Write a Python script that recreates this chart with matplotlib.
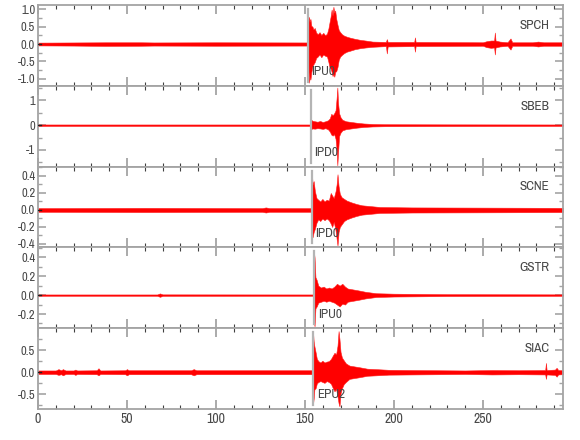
import numpy as np
import matplotlib
matplotlib.use("Agg")
import matplotlib.pyplot as plt
from matplotlib.ticker import MultipleLocator, FormatStrFormatter

plt.rcParams['font.family'] = ['Archivo Narrow', 'DejaVu Sans']

# --- Trace envelopes: (time s, upper, lower) ---
SPCH = [
    (0, .04, -.04), (20, .045, -.045), (38, .05, -.055), (58, .05, -.05),
    (65, .045, -.045), (100, .05, -.05), (151.6, .045, -.045),
    (151.9, .62, -.70), (152.3, .78, -1.11), (152.7, .64, -.95),
    (153.1, .72, -1.02), (153.6, .52, -.80), (154.2, .50, -.65),
    (154.8, .42, -.58), (155.5, .46, -.52), (156.3, .33, -.40),
    (157.2, .28, -.36), (158.2, .34, -.30), (159.2, .26, -.38),
    (160.3, .32, -.30), (161.4, .25, -.34), (162.4, .30, -.36),
    (163.2, .45, -.52), (163.8, .62, -.66), (164.4, .78, -.70),
    (165.0, .99, -.80), (165.5, .82, -.92), (166.0, 1.07, -.86),
    (166.5, .90, -.94), (167.0, .96, -.80), (167.6, .72, -.78),
    (168.3, .55, -.66), (169.0, .40, -.45), (169.8, .34, -.36),
    (170.8, .28, -.31), (172.0, .24, -.26), (173.5, .21, -.22),
    (175.5, .18, -.19), (178.0, .15, -.15), (181.0, .12, -.12),
    (184.0, .10, -.10), (188.0, .07, -.08), (195.5, .06, -.06),
    (196.0, .14, -.27), (196.5, .06, -.07), (211.4, .06, -.06),
    (211.8, .19, -.22), (212.2, .06, -.06), (250.0, .05, -.05),
    (252.0, .08, -.09), (254.5, .10, -.11), (256.3, .10, -.10),
    (256.7, .33, -.30), (257.1, .10, -.10), (259.5, .07, -.07),
    (263.8, .05, -.05), (265.5, .16, -.16), (266.5, .05, -.05),
    (278.0, .05, -.05), (281.0, .07, -.07), (284.0, .05, -.05),
    (295.0, .05, -.05),
]

SBEB = [
    (0, .03, -.03), (153.1, .03, -.03), (153.3, .23, -.16), (154.2, .18, -.13),
    (155.5, .16, -.14), (157.0, .14, -.12), (158.5, .17, -.13),
    (160.0, .13, -.15), (161.5, .16, -.12), (163.0, .20, -.17),
    (164.0, .28, -.26), (164.8, .46, -.38), (165.6, .40, -.42),
    (166.4, .48, -.36), (167.2, .60, -.55), (167.8, 1.1, -1.0),
    (168.2, 1.52, -1.62), (168.6, .9, -1.1), (169.2, .48, -.44),
    (170.0, .32, -.30), (171.0, .22, -.21), (173.0, .16, -.16),
    (176.0, .13, -.13), (179.0, .10, -.10), (183.0, .07, -.07),
    (188.0, .05, -.05), (195.0, .04, -.04), (230, .035, -.035), (295, .03, -.03),
]

SCNE = [
    (0, .022, -.022), (60, .025, -.025), (126, .022, -.022), (128, .03, -.03),
    (130, .022, -.022), (153.6, .022, -.022), (153.8, .47, -.30),
    (154.3, .30, -.32), (154.9, .34, -.26), (155.6, .22, -.22),
    (156.5, .14, -.15), (157.5, .12, -.11), (158.6, .10, -.13),
    (159.8, .13, -.10), (161.0, .10, -.12), (162.2, .12, -.10),
    (163.4, .11, -.12), (164.5, .20, -.16), (165.3, .17, -.20),
    (166.2, .14, -.14), (167.2, .22, -.24), (167.8, .30, -.34),
    (168.3, .42, -.42), (168.9, .28, -.26), (169.6, .19, -.20),
    (170.6, .15, -.17), (172.0, .13, -.13), (173.5, .11, -.11),
    (176.0, .09, -.09), (179.0, .07, -.07), (182.0, .055, -.055),
    (187.0, .045, -.045), (192.0, .035, -.035), (210, .03, -.03),
    (295, .025, -.025),
]

GSTR = [
    (0, .007, -.007), (67, .007, -.007), (68.5, .018, -.018), (70, .008, -.008),
    (154.8, .007, -.007), (155.0, .46, -.28), (155.4, .40, -.33),
    (155.9, .19, -.14), (156.6, .16, -.12), (157.5, .10, -.08),
    (159.0, .08, -.07), (160.5, .09, -.06), (162.0, .07, -.07),
    (163.5, .08, -.06), (165.0, .07, -.07), (166.5, .09, -.08),
    (168.0, .12, -.10), (169.5, .10, -.12), (171.0, .12, -.09),
    (172.5, .09, -.10), (174.0, .07, -.07), (177.0, .06, -.06),
    (180.0, .05, -.05), (184.0, .035, -.035), (190.0, .02, -.02),
    (200, .015, -.015), (230, .01, -.01), (295, .008, -.008),
]

SIAC = [
    (0, .04, -.04), (10, .04, -.04), (11.5, .07, -.06), (13, .045, -.045),
    (14, .07, -.07), (15.5, .04, -.04), (20, .04, -.04), (21, .06, -.06),
    (22, .04, -.04), (33, .045, -.045), (34, .09, -.07), (35, .04, -.04),
    (49, .045, -.045), (50, .07, -.07), (51, .045, -.045), (86, .045, -.045),
    (87.5, .07, -.07), (89, .045, -.045),
    (154.3, .045, -.045), (154.5, .93, -.73), (154.9, .70, -.60),
    (155.3, .59, -.39), (156.0, .45, -.36), (156.7, .30, -.25),
    (157.6, .25, -.22), (158.7, .22, -.20), (159.8, .26, -.22),
    (161.0, .22, -.24), (162.2, .24, -.20), (163.4, .25, -.22),
    (164.6, .30, -.26), (165.7, .38, -.36), (166.6, .44, -.43),
    (167.5, .40, -.38), (168.3, .60, -.55), (168.9, .93, -.70),
    (169.4, .75, -.77), (170.0, .46, -.48), (170.8, .33, -.36),
    (171.8, .27, -.27), (173.0, .20, -.22), (175.0, .15, -.15),
    (178.0, .13, -.13), (181.0, .11, -.11), (185.0, .08, -.08),
    (190.0, .07, -.07), (197.0, .055, -.055), (210, .05, -.05),
    (240, .04, -.04), (255, .05, -.05), (270, .045, -.045),
    (285.0, .05, -.05), (285.4, .21, -.15), (285.8, .05, -.05),
    (290.5, .06, -.06), (291.4, .10, -.10), (292.3, .05, -.05),
    (295, .045, -.045),
]

STATIONS = ["SPCH", "SBEB", "SCNE", "GSTR", "SIAC"]
TRACES = [SPCH, SBEB, SCNE, GSTR, SIAC]
PICK_TIMES = [151.7, 153.2, 153.7, 155.2, 154.6]
PICK_LABELS = ["IPU0", "IPD0", "IPD0", "IPU0", "EPU2"]
YLIMS = [(-1.2, 1.12), (-1.67, 1.59), (-0.44, 0.51), (-0.35, 0.505), (-0.83, 0.995)]
YSTEPS = [(0.5, 0.25), (1.0, 0.5), (0.2, 0.1), (0.2, 0.1), (0.5, 0.25)]
YFMTS = ["%.1f", "%d", "%.1f", "%.1f", "%.1f"]

FRAME = "#a4a4a4"
TEXT = "#484848"

fig, axes = plt.subplots(5, 1, figsize=(5.8, 4.4), dpi=100, sharex=True)
fig.subplots_adjust(left=0.0655, right=0.9707, top=0.9886, bottom=0.0705, hspace=0)

for i, ax in enumerate(axes):
    t, hi, lo = (np.array(v) for v in zip(*TRACES[i]))
    ax.fill_between(t, lo, hi, facecolor="#ff0000", edgecolor="#ff2020",
                    linewidth=0.4, zorder=2)
    ax.plot([0, 1.5], [0, 0], color="#202020", lw=1, zorder=3)

    ax.axvline(PICK_TIMES[i], ymin=0.05, ymax=0.95, color="#b4b4b4", lw=1.6, zorder=3)
    ax.text(PICK_TIMES[i] + 2.0, 0.175, PICK_LABELS[i], transform=ax.get_xaxis_transform(),
            ha="left", va="center", fontsize=9.5, color=TEXT)
    ax.text(287.5, 0.75, STATIONS[i], transform=ax.get_xaxis_transform(),
            ha="right", va="center", fontsize=9.5, color=TEXT)

    ax.set_xlim(0, 295)
    ax.set_ylim(*YLIMS[i])
    ax.xaxis.set_major_locator(MultipleLocator(50))
    ax.xaxis.set_minor_locator(MultipleLocator(10))
    ax.yaxis.set_major_locator(MultipleLocator(YSTEPS[i][0]))
    ax.yaxis.set_minor_locator(MultipleLocator(YSTEPS[i][1]))
    ax.yaxis.set_major_formatter(FormatStrFormatter(YFMTS[i]))

    for sp in ax.spines.values():
        sp.set_color(FRAME)
        sp.set_linewidth(1.3)

    ax.tick_params(which="both", direction="in", top=True, right=True,
                   labelcolor=TEXT, labelsize=9, pad=2)
    ax.tick_params(axis="x", which="major", length=6.5, width=1.3, color=FRAME)
    ax.tick_params(axis="x", which="minor", length=3.2, width=0.8, color="#404040")
    ax.tick_params(axis="y", which="major", length=5.8, width=1.2, color=FRAME)
    ax.tick_params(axis="y", which="minor", length=2.9, width=1.0, color=FRAME)
    if i < 4:
        ax.tick_params(axis="x", labelbottom=False)

axes[-1].tick_params(axis="x", labelsize=10)

fig.savefig("out.png", dpi=100)
